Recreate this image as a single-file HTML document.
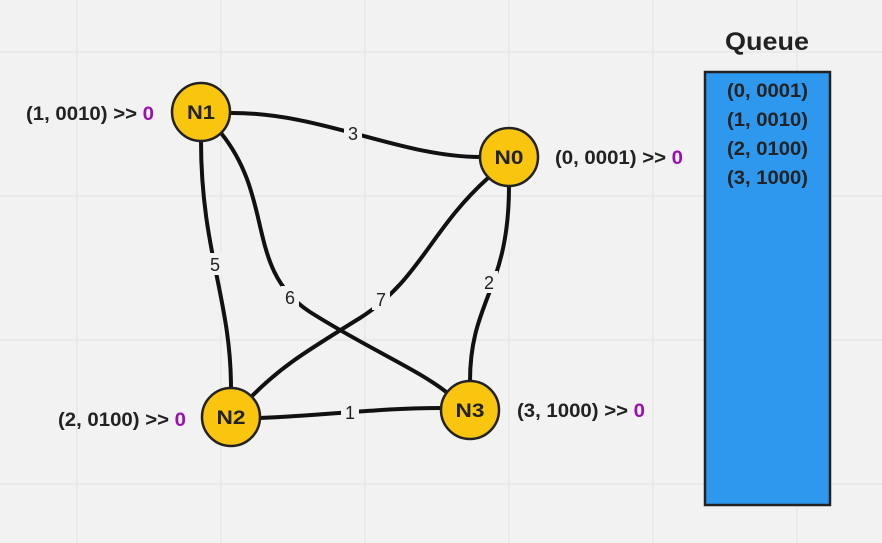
<!DOCTYPE html>
<html><head><meta charset="utf-8"><style>
body{margin:0;background:#f2f2f2;}
svg{display:block;font-family:"Liberation Sans","DejaVu Sans",sans-serif;}
</style></head><body>
<svg width="882" height="543" viewBox="0 0 882 543">
<rect width="882" height="543" fill="#f2f2f2"/>
<g stroke="#e3e3e3" stroke-width="1">
<line x1="77" y1="0" x2="77" y2="543"/><line x1="221" y1="0" x2="221" y2="543"/><line x1="365" y1="0" x2="365" y2="543"/><line x1="509" y1="0" x2="509" y2="543"/><line x1="653" y1="0" x2="653" y2="543"/><line x1="797" y1="0" x2="797" y2="543"/>
<line x1="0" y1="52" x2="882" y2="52"/><line x1="0" y1="196" x2="882" y2="196"/><line x1="0" y1="340" x2="882" y2="340"/><line x1="0" y1="484" x2="882" y2="484"/>
</g>
<g fill="none" stroke="#111" stroke-width="4">
<path d="M230,113 C320,112 400,157 480,157"/>
<path d="M201,141 C201,250 231,300 231,388"/>
<path d="M221,133 C275,200 245,270 310,312 C370,350 420,370 450,395"/>
<path d="M488,178 C430,230 420,280 360,318 C300,355 280,368 252,396"/>
<path d="M509,186 C509,290 470,300 470,381"/>
<path d="M260,418 C330,415 380,408 441,408"/>
</g>
<g font-size="18" fill="#222" text-anchor="middle">
<rect x="344" y="122" width="18" height="22" fill="#f2f2f2"/><text x="353" y="140">3</text>
<rect x="206" y="253" width="18" height="22" fill="#f2f2f2"/><text x="215" y="271">5</text>
<rect x="281" y="286" width="18" height="22" fill="#f2f2f2"/><text x="290" y="304">6</text>
<rect x="372" y="288" width="18" height="22" fill="#f2f2f2"/><text x="381" y="306">7</text>
<rect x="480" y="271" width="18" height="22" fill="#f2f2f2"/><text x="489" y="289">2</text>
<rect x="341" y="401" width="18" height="22" fill="#f2f2f2"/><text x="350" y="419">1</text>
</g>
<g fill="#f9c50f" stroke="#222" stroke-width="2.5">
<circle cx="201" cy="112" r="29"/><circle cx="509" cy="157" r="29"/><circle cx="231" cy="417" r="29"/><circle cx="470" cy="410" r="29"/>
</g>
<g font-size="19" font-weight="bold" fill="#222" text-anchor="middle">
<text x="201" y="119" textLength="28" lengthAdjust="spacingAndGlyphs">N1</text><text x="509" y="164" textLength="29" lengthAdjust="spacingAndGlyphs">N0</text><text x="231" y="424" textLength="29" lengthAdjust="spacingAndGlyphs">N2</text><text x="470" y="417" textLength="29" lengthAdjust="spacingAndGlyphs">N3</text>
</g>
<g font-size="19" font-weight="bold" fill="#222">
<text x="26" y="120" textLength="128" lengthAdjust="spacingAndGlyphs">(1, 0010) &gt;&gt; <tspan fill="#9b0fb0">0</tspan></text>
<text x="555" y="164" textLength="128" lengthAdjust="spacingAndGlyphs">(0, 0001) &gt;&gt; <tspan fill="#9b0fb0">0</tspan></text>
<text x="58" y="426" textLength="128" lengthAdjust="spacingAndGlyphs">(2, 0100) &gt;&gt; <tspan fill="#9b0fb0">0</tspan></text>
<text x="517" y="417" textLength="128" lengthAdjust="spacingAndGlyphs">(3, 1000) &gt;&gt; <tspan fill="#9b0fb0">0</tspan></text>
</g>
<text x="725" y="50" font-size="25" font-weight="bold" fill="#222" textLength="84" lengthAdjust="spacingAndGlyphs">Queue</text>
<rect x="705" y="72" width="125" height="433" fill="#2e98ee" stroke="#222" stroke-width="2.5"/>
<g font-size="19" font-weight="bold" fill="#222">
<text x="727" y="97" textLength="81" lengthAdjust="spacingAndGlyphs">(0, 0001)</text><text x="727" y="126" textLength="81" lengthAdjust="spacingAndGlyphs">(1, 0010)</text><text x="727" y="155" textLength="81" lengthAdjust="spacingAndGlyphs">(2, 0100)</text><text x="727" y="184" textLength="81" lengthAdjust="spacingAndGlyphs">(3, 1000)</text>
</g>
</svg>
</body></html>
